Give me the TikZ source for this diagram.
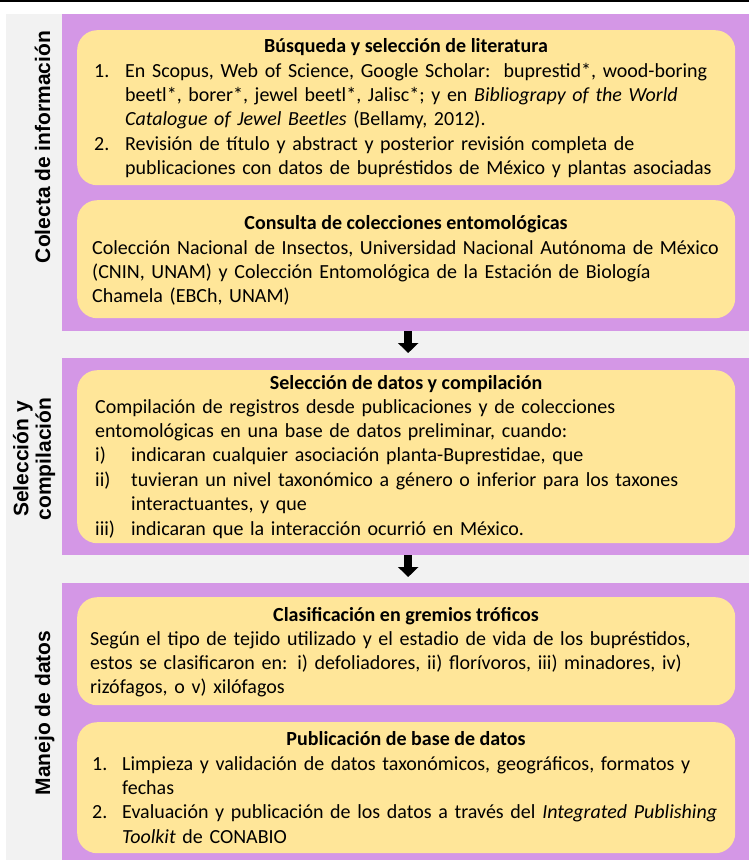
\documentclass[tikz,border=0pt]{standalone}
\usepackage{fontspec}
\setmainfont{Carlito}
\newfontfamily\arialfont{Liberation Sans}
\usetikzlibrary{positioning,arrows.meta}
\definecolor{fondo}{HTML}{F2F2F2}
\definecolor{lila}{HTML}{D497E6}
\definecolor{crema}{HTML}{FFE699}
\newcommand{\numero}[2][31pt]{\makebox[#1][l]{#2}}
\newcommand{\sangria}[1][31pt]{\hspace*{#1}}

\begin{document}
\begin{tikzpicture}[x=1pt,y=-1pt,
  panel/.style={fill=lila,inner sep=0pt,anchor=north west,minimum width=687pt},
  caja/.style={fill=crema,rounded corners=20pt,inner sep=0pt,anchor=north west,minimum width=658pt},
  titulo/.style={font=\fontsize{20}{24.4}\selectfont\bfseries,anchor=base,inner sep=0pt},
  texto/.style={font=\fontsize{20}{24.4}\selectfont,anchor=base west,inner sep=0pt,text width=650pt,align=left},
  etiqueta/.style={font=\fontsize{21}{22.5}\selectfont\arialfont\bfseries,rotate=90,align=center,inner sep=0pt},
  flecha/.style={line width=8pt,-{Triangle[width=20pt,length=10pt]}}]
\useasboundingbox (0,0) rectangle (749,860);
\draw[line width=1.6pt] (0,1) -- (749,1);
\fill[fondo] (6,14) rectangle (749,860);
% paneles
\node[panel,minimum height=317pt] (colecta) at (62,14) {};
\node[panel,minimum height=197pt] (seleccion) at (62,358) {};
\node[panel,minimum height=277pt] (manejo) at (62,583) {};
% cajas
\node[caja,minimum height=155pt] (busqueda) at (77,30) {};
\node[caja,minimum height=118pt] (consulta) at (77,200) {};
\node[caja,minimum height=173pt] (compilacion) at (77,370) {};
\node[caja,minimum height=108pt] (gremios) at (77,597) {};
\node[caja,minimum height=131pt] (publicacion) at (77,722) {};
% etiquetas
\node[etiqueta,anchor=base] (l-colecta) at (50,147) {Colecta de información};
\node[etiqueta] (l-seleccion) at (34,459) {Selección y\\compilación};
\node[etiqueta,anchor=base] (l-manejo) at (50,713) {Manejo de datos};
% textos
\node[titulo] (t-busqueda) at (406,52) {Búsqueda y selección de literatura};
\node[texto] (x-busqueda) at (94,77) {\numero{1.}En Scopus, Web of Science, Google Scholar:\ \ buprestid*, wood-boring\\
\sangria beetl*, borer*, jewel beetl*, Jalisc*; y en \textit{Bibliograpy of the World}\\
\sangria\textit{Catalogue of Jewel Beetles} (Bellamy, 2012).\\
\numero{2.}Revisión de título y abstract y posterior revisión completa de\\
\sangria publicaciones con datos de bupréstidos de México y plantas asociadas};
\node[titulo] (t-consulta) at (406,229) {Consulta de colecciones entomológicas};
\node[texto] (x-consulta) at (92,254) {Colección Nacional de Insectos, Universidad Nacional Autónoma de México\\
(CNIN, UNAM) y Colección Entomológica de la Estación de Biología\\
Chamela (EBCh, UNAM)};
\node[titulo] (t-compilacion) at (406,389) {Selección de datos y compilación};
\node[texto] (x-compilacion) at (95,413) {Compilación de registros desde publicaciones y de colecciones\\
entomológicas en una base de datos preliminar, cuando:\\
\numero[36pt]{i)}indicaran cualquier asociación planta-Buprestidae, que\\
\numero[36pt]{ii)}tuvieran un nivel taxonómico a género o inferior para los taxones\\
\sangria[36pt]interactuantes, y que\\
\numero[36pt]{iii)}indicaran que la interacción ocurrió en México.};
\node[titulo] (t-gremios) at (406,621) {Clasificación en gremios tróficos};
\node[texto] (x-gremios) at (90,645) {Según el tipo de tejido utilizado y el estadio de vida de los bupréstidos,\\
estos se clasificaron en: i) defoliadores, ii) florívoros, iii) minadores, iv)\\
rizófagos, o v) xilófagos};
\node[titulo] (t-publicacion) at (406,745) {Publicación de base de datos};
\node[texto] (x-publicacion) at (92,770) {\numero[30pt]{1.}Limpieza y validación de datos taxonómicos, geográficos, formatos y\\
\sangria[30pt]fechas\\
\numero[30pt]{2.}Evaluación y publicación de los datos a través del \textit{Integrated Publishing}\\
\sangria[30pt]\textit{Toolkit} de CONABIO};
% flechas
\draw[flecha,shorten >=5pt] ([xshift=2.5pt]colecta.south) -- ([xshift=2.5pt]seleccion.north);
\draw[flecha,shorten >=6pt] ([xshift=2.5pt]seleccion.south) -- ([xshift=2.5pt]manejo.north);
\end{tikzpicture}
\end{document}
